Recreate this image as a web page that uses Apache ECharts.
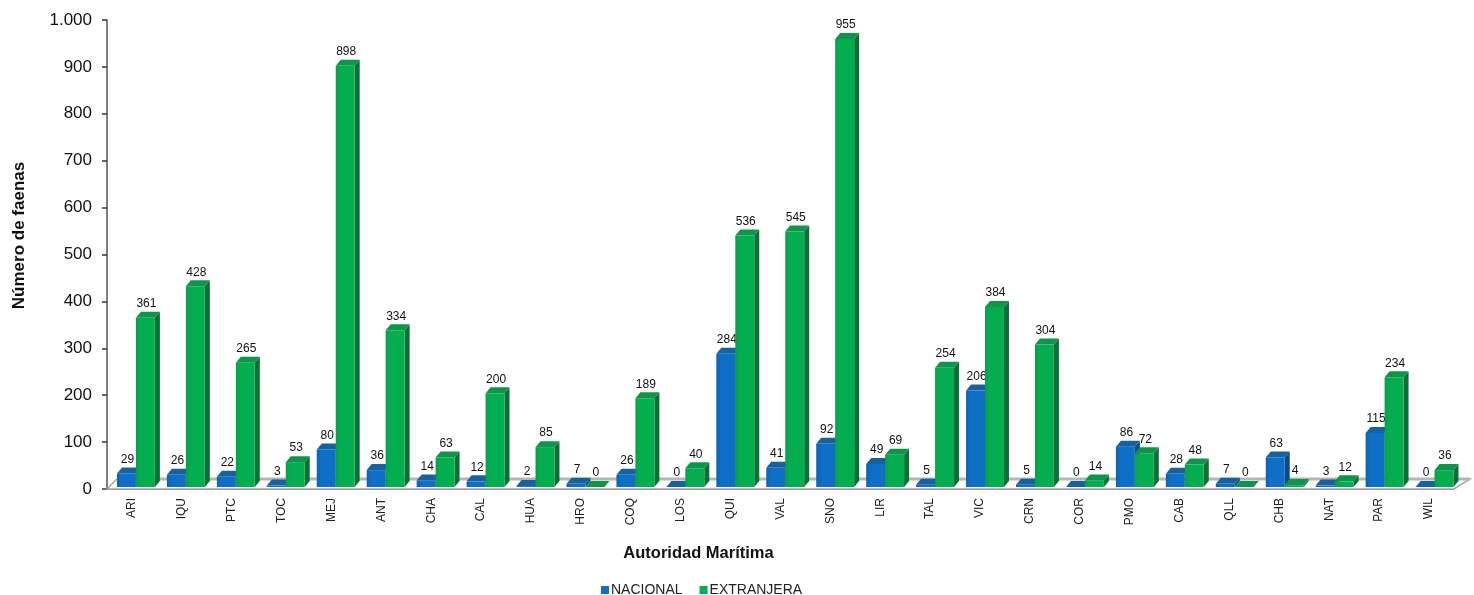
<!DOCTYPE html>
<html>
<head>
<meta charset="utf-8">
<style>html,body{margin:0;padding:0;background:#fff}#c{width:1474px;height:595px}</style>
<script src="https://cdn.jsdelivr.net/npm/echarts@6/dist/echarts.min.js"></script>
</head>
<body>
<div id="c"></div>
<script>
const categories = ['ARI','IQU','PTC','TOC','MEJ','ANT','CHA','CAL','HUA','HRO','COQ','LOS','QUI','VAL','SNO','LIR','TAL','VIC','CRN','COR','PMO','CAB','QLL','CHB','NAT','PAR','WIL'];
const nacional = [29,26,22,3,80,36,14,12,2,7,26,0,284,41,92,49,5,206,5,0,86,28,7,63,3,115,0];
const extranjera = [361,428,265,53,898,334,63,200,85,0,189,40,536,545,955,69,254,384,304,14,72,48,0,4,12,234,36];
const yMax = 1000;
const yStep = 100;

const FONT = '"Liberation Sans", Arial, sans-serif';
const chart = echarts.init(document.getElementById('c'), null, {renderer: 'canvas'});

function bar3d(startFrac, endFrac, pal) {
  return function (params, api) {
    const i = api.value(0), v = api.value(1);
    const p = api.coord([i, v]);
    const base = api.coord([i, 0]);
    const bw = api.size([1, 0])[0];
    const left = p[0] - bw / 2;
    const x0 = left + bw * startFrac + (i / 26) * 1.5;
    const x1 = left + bw * endFrac + (i / 26) * 1.5;
    const lift = 2, dx = 5, dy = 6;
    const yt = p[1] - lift, yb = base[1] - lift;
    return {
      type: 'group',
      children: [
        {type: 'polygon', shape: {points: [[x1, yt], [x1 + dx, yt - dy], [x1 + dx, yb - dy], [x1, yb]]}, style: {fill: pal.side}},
        {type: 'polygon', shape: {points: [[x0, yt], [x0 + dx, yt - dy], [x1 + dx, yt - dy], [x1, yt]]}, style: {fill: pal.cap}},
        {type: 'rect', shape: {x: x0, y: yt, width: x1 - x0, height: Math.max(yb - yt, 0)},
          style: {fill: new echarts.graphic.LinearGradient(0, 0, 1, 0, [
            {offset: 0, color: pal.edge}, {offset: 0.25, color: pal.front}, {offset: 1, color: pal.front}
          ])}},
        {type: 'text', style: {
          x: (x0 + x1) / 2 + 1, y: p[1] - 16, text: String(v),
          textAlign: 'center', textVerticalAlign: 'middle',
          fill: '#111', font: '12px ' + FONT
        }}
      ]
    };
  };
}

function floor(params, api) {
  const a = api.coord([0, 0]), b = api.coord([categories.length - 1, 0]);
  const bw = api.size([1, 0])[0];
  const xl = a[0] - bw / 2, xr = b[0] + bw / 2, y = a[1];
  return {
    type: 'group',
    children: [
      {type: 'polygon', shape: {points: [[xl, y], [xl + 10, y - 10], [xr + 16, y - 10], [xr, y]]},
        style: {fill: '#fff', stroke: '#a8a8a8', lineWidth: 1.5}},
      {type: 'line', shape: {x1: xl + 10, y1: y - 10, x2: xr + 16, y2: y - 10},
        style: {stroke: '#b5b5b5', lineWidth: 3}}
    ]
  };
}

chart.setOption({
  animation: false,
  backgroundColor: '#fff',
  grid: {left: 107, right: 20, top: 20, bottom: 106, containLabel: false},
  legend: {
    data: ['NACIONAL', 'EXTRANJERA'],
    left: 596, top: 578, icon: 'rect', itemWidth: 8, itemHeight: 8, itemGap: 17,
    textStyle: {fontFamily: FONT, fontSize: 14, color: '#222', padding: [0, 0, 0, -3]}
  },
  xAxis: {
    type: 'category', data: categories, boundaryGap: true,
    name: 'Autoridad Marítima', nameLocation: 'middle', nameGap: 56,
    nameTextStyle: {fontFamily: FONT, fontWeight: 'bold', fontSize: 16.5, color: '#111', padding: [0, 164, 0, 0]},
    axisLine: {lineStyle: {color: '#555', width: 1.5}},
    axisTick: {alignWithLabel: false, length: 5, lineStyle: {color: '#333', width: 1.5}},
    axisLabel: {rotate: 90, interval: 0, margin: 9, fontFamily: FONT, fontSize: 12, color: '#222', lineHeight: 16, padding: [8, 0, 0, 0]}
  },
  yAxis: {
    type: 'value', min: 0, max: yMax, interval: yStep,
    name: 'Número de faenas', nameLocation: 'middle', nameGap: 79,
    nameTextStyle: {fontFamily: FONT, fontWeight: 'bold', fontSize: 17, color: '#111', padding: [0, 0, 0, 38]},
    axisLine: {show: true, lineStyle: {color: '#555', width: 1.5}},
    axisTick: {show: true, length: 5, lineStyle: {color: '#333', width: 1.5}},
    splitLine: {show: false},
    axisLabel: {margin: 15, fontFamily: FONT, fontSize: 17, color: '#111',
      formatter: v => v >= 1000 ? String(v).replace(/(\d)(\d{3})$/, '$1.$2') : String(v)}
  },
  series: [
    {name: 'floor', type: 'custom', silent: true, clip: false, z: 1,
      data: [[0, 0]], encode: {x: 0, y: 1}, renderItem: floor},
    {name: 'NACIONAL', type: 'custom', clip: false, z: 2, itemStyle: {color: '#0f6fc6'},
      data: nacional.map((v, i) => [i, v]), encode: {x: 0, y: 1},
      renderItem: bar3d(0.2, 0.58, {front: '#0f6fc6', edge: '#0a62b0', cap: '#17619f', side: '#0b4a86'})},
    {name: 'EXTRANJERA', type: 'custom', clip: false, z: 3, itemStyle: {color: '#00b050'},
      data: extranjera.map((v, i) => [i, v]), encode: {x: 0, y: 1},
      renderItem: bar3d(0.58, 0.96, {front: '#04ae50', edge: '#0a9f4c', cap: '#0f9549', side: '#0b6f36'})}
  ]
});
</script>
</body>
</html>
